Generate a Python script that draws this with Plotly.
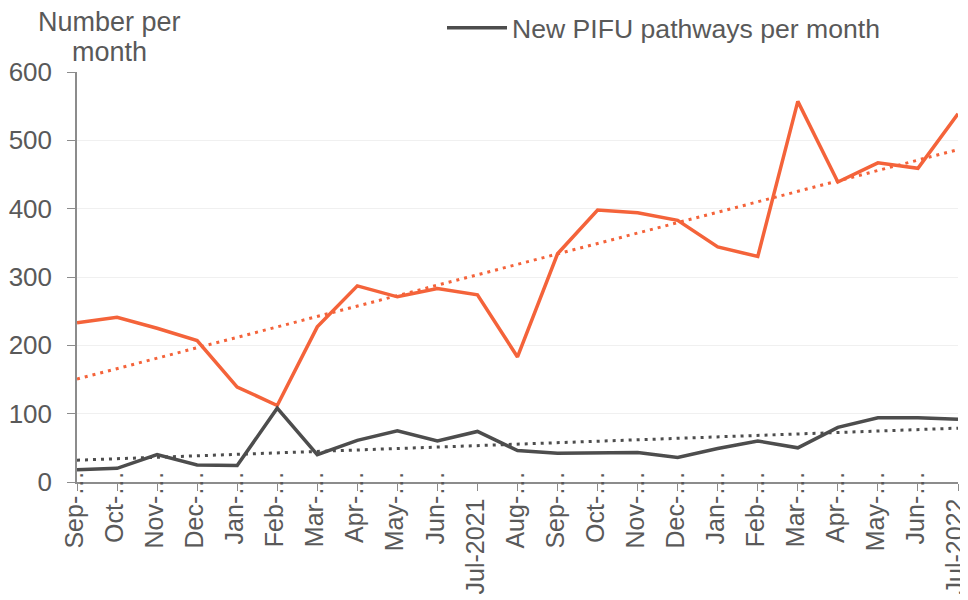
import numpy as np
import plotly.graph_objects as go

# months Sep-2020 .. Jul-2022
months = ["Sep-2020", "Oct-2020", "Nov-2020", "Dec-2020", "Jan-2021", "Feb-2021",
          "Mar-2021", "Apr-2021", "May-2021", "Jun-2021", "Jul-2021", "Aug-2021",
          "Sep-2021", "Oct-2021", "Nov-2021", "Dec-2021", "Jan-2022", "Feb-2022",
          "Mar-2022", "Apr-2022", "May-2022", "Jun-2022", "Jul-2022"]
# axis labels as they appear (truncated except the July ones)
tick_labels = ["Sep-…", "Oct-…", "Nov-…", "Dec-…", "Jan-…", "Feb-…", "Mar-…", "Apr-…",
               "May-…", "Jun-…", "Jul-2021", "Aug-…", "Sep-…", "Oct-…", "Nov-…", "Dec-…",
               "Jan-…", "Feb-…", "Mar-…", "Apr-…", "May-…", "Jun-…", "Jul-2022"]

other_series = [233, 241, 225, 207, 139, 112, 227, 287, 271, 283, 274, 183,
                334, 398, 394, 383, 344, 330, 557, 439, 467, 459, 539]
new_pifu = [18, 20, 40, 25, 24, 108, 40, 61, 75, 60, 74, 46,
            42, 43, 43, 36, 49, 60, 50, 80, 94, 94, 92]

ORANGE = "#F4633A"
GREY = "#4D4D4D"
TXT = "#595959"

# linear trend lines, like the spreadsheet ones
idx = np.arange(len(months))
fit_o = np.polyval(np.polyfit(idx, other_series, 1), idx)
fit_g = np.polyval(np.polyfit(idx, new_pifu, 1), idx)

# the untruncated July labels sit a little lower than the "…" ones
shown_labels = [t if "…" in t else t + "\u00a0" * 4 for t in tick_labels]

fig = go.Figure()
fig.add_trace(go.Scatter(x=idx, y=fit_o, mode="lines", showlegend=False,
                         line=dict(color=ORANGE, width=3, dash="3px,5px")))
fig.add_trace(go.Scatter(x=idx, y=fit_g, mode="lines", showlegend=False,
                         line=dict(color=GREY, width=3, dash="3px,5px")))
fig.add_trace(go.Scatter(x=idx, y=other_series, mode="lines", showlegend=False,
                         line=dict(color=ORANGE, width=3.5)))
fig.add_trace(go.Scatter(x=idx, y=new_pifu, mode="lines",
                         name="New PIFU pathways per month",
                         line=dict(color=GREY, width=3.5)))

# page body has an 8px margin, so the figure is 960x592 and offsets are -8
W, H = 960, 592
L, T, PW, PH = 69, 64, 881, 410


def ann(text, px, py):
    # position given in figure pixels, converted to paper coords
    return dict(text=text, xref="paper", yref="paper",
                x=(px - L) / PW, y=(T + PH - py) / PH,
                xanchor="center", yanchor="middle", showarrow=False,
                font=dict(size=27, color=TXT))


fig.update_layout(
    width=W, height=H,
    margin=dict(l=L, r=W - L - PW, t=T, b=H - T - PH),
    paper_bgcolor="white", plot_bgcolor="white",
    font=dict(family="Liberation Sans, Arial", size=25, color=TXT),
    legend=dict(orientation="h", xref="container", yref="container",
                x=434 / W, y=1 - 20 / H, xanchor="left", yanchor="middle",
                font=dict(size=26.6, color=TXT), itemwidth=60),
    annotations=[ann("Number per", 101, 14), ann("month", 101, 44)],
)
fig.update_xaxes(
    tickmode="array", tickvals=idx, ticktext=shown_labels, tickangle=-90,
    range=[0, len(months) - 1], showgrid=False, zeroline=False,
    showline=True, linecolor="#8C8C8C", linewidth=1.5,
    ticks="outside", ticklen=7, tickcolor="#8C8C8C",
    ticklabelstandoff=-30, ticklabelshift=-2, ticklabeloverflow="allow",
    automargin=False, tickfont=dict(size=25, color=TXT),
)
fig.update_yaxes(
    range=[0, 600], dtick=100, showgrid=True, gridcolor="#F0F0F0", zeroline=False,
    showline=True, linecolor="#8C8C8C", linewidth=1.5,
    ticks="outside", ticklen=8, tickcolor="#8C8C8C", ticklabelstandoff=10,
    automargin=False, tickfont=dict(size=26, color=TXT),
)

fig.write_html("out.html")
